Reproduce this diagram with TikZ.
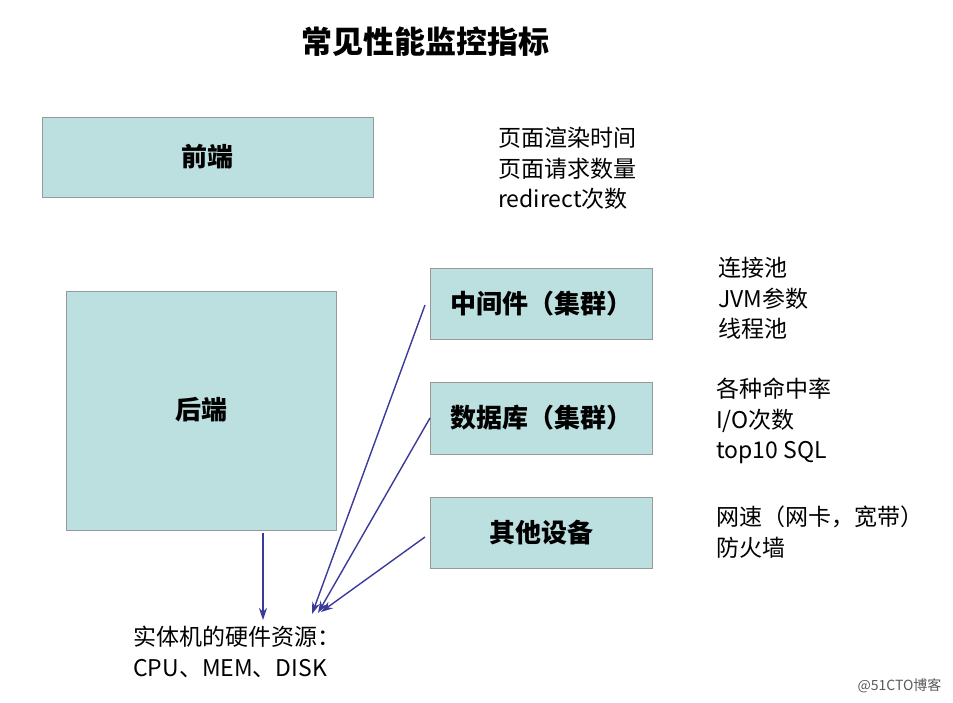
\documentclass[tikz,border=0pt]{standalone}
\usepackage{fontspec}
\setmainfont{Liberation Sans}
\newfontfamily\cjk{Noto Sans CJK SC}
\usetikzlibrary{arrows.meta}
\definecolor{boxfill}{HTML}{BCE0E0}
\definecolor{arr}{HTML}{3A3A9A}
\tikzset{
 boxn/.style={draw=gray!80,fill=boxfill,line width=0.8pt},
 lbl/.style={font=\cjk\bfseries\fontsize{26}{30}\selectfont},
 info/.style={anchor=north west,align=left,inner sep=0pt,font=\cjk\fontsize{23}{30.5}\selectfont},
 arrw/.style={draw=arr,line width=1.4pt,-{Stealth[length=12pt,width=8pt]}}
}
\begin{document}
\begin{tikzpicture}[x=1pt,y=-1pt]
\useasboundingbox (0,0) rectangle (953,703);
\node[font=\cjk\bfseries\fontsize{31}{34}\selectfont] (title) at (425,42) {常见性能监控指标};
\draw[boxn] (42,117) rectangle (373,197);
\node[lbl] (fe) at (207.5,157) {前端};
\draw[boxn] (66,291) rectangle (336,530);
\node[lbl] (be) at (201,410) {后端};
\draw[boxn] (430,268) rectangle (652,339);
\node[lbl] (mw) at (541,303.5) {中间件（集群）};
\draw[boxn] (430,382) rectangle (652,454);
\node[lbl] (db) at (541,418) {数据库（集群）};
\draw[boxn] (430,497) rectangle (652,568);
\node[lbl] (ot) at (541,532.5) {其他设备};
\node[info] (t1) at (498,127) {页面渲染时间\\页面请求数量\\redirect{\cjk 次数}};
\node[info] (t2) at (718,257) {连接池\\JVM{\cjk 参数}\\线程池};
\node[info] (t3) at (716,378) {各种命中率\\I/O{\cjk 次数}\\top10 SQL};
\node[info] (t4) at (716,506) {网速（网卡，宽带）\\防火墙};
\node[info] (hw) at (133,626) {实体机的硬件资源：\\CPU{\cjk 、}MEM{\cjk 、}DISK};
\coordinate (bb) at (263,533);
\coordinate (tgt) at (263,620);
\coordinate (m1) at (425,305);
\coordinate (m2) at (430,418);
\coordinate (m3) at (425,537);
\coordinate (p1) at (312,614);
\coordinate (p2) at (318,613);
\coordinate (p3) at (321,612);
\draw[arrw] (bb) -- (tgt);
\draw[arrw] (m1) -- (p1);
\draw[arrw] (m2) -- (p2);
\draw[arrw] (m3) -- (p3);
\node[anchor=east,font=\cjk\fontsize{14}{16}\selectfont,text=gray!70!black] (wm) at (945,686) {@51CTO博客};
\end{tikzpicture}
\end{document}
